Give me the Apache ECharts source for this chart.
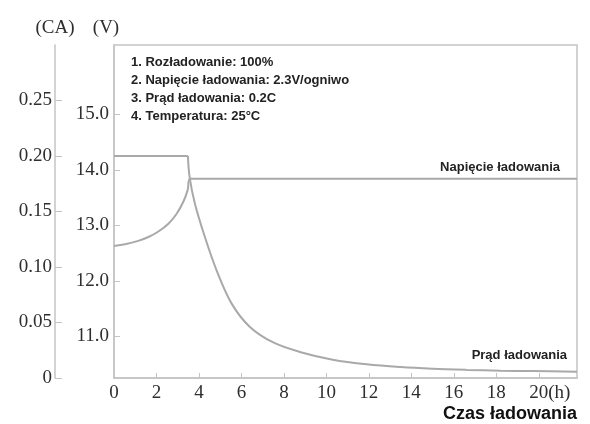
<!DOCTYPE html>
<html>
<head>
<meta charset="utf-8">
<script src="https://cdn.jsdelivr.net/npm/echarts@6/dist/echarts.min.js"></script>
<style>html,body{margin:0;padding:0;background:#fff;}#c{width:590px;height:424px;}</style>
</head>
<body>
<div id="c"></div>
<script>
// Data
var timeTicks = [0, 2, 4, 6, 8, 10, 12, 14, 16, 18, 20];
var currentTicks = [0, 0.05, 0.10, 0.15, 0.20, 0.25];
var voltageTicks = [11, 12, 13, 14, 15];

var voltageTime  = [0, 0.52, 1.14, 1.62, 2.09, 2.56, 2.95, 3.27, 3.47, 3.58, 21.8];
var voltageValue = [12.63, 12.66, 12.72, 12.79, 12.89, 13.03, 13.21, 13.43, 13.64, 13.84, 13.84];

var currentTime  = [0, 3.48, 3.56, 3.81, 4.28, 4.83, 5.54, 6.4, 7.5, 8.75, 10.3, 11.9, 13.5, 15.0, 16.6, 18.2, 19.7, 21.8];
var currentValue = [0.2, 0.2, 0.181, 0.157, 0.127, 0.097, 0.067, 0.046, 0.032, 0.0235, 0.0165, 0.0123, 0.0098, 0.0083, 0.0073, 0.0066, 0.0062, 0.0057];

var notes = ['1. Rozładowanie: 100%', '2. Napięcie ładowania: 2.3V/ogniwo', '3. Prąd ładowania: 0.2C', '4. Temperatura: 25°C'];

function pairs(xs, ys) { return xs.map(function (x, i) { return [x, ys[i]]; }); }

var serif = '"Liberation Serif", "Times New Roman", serif';
var sans = '"Liberation Sans", Arial, sans-serif';
var axisGray = '#c4c4c4';
var lineGray = '#a9a9a9';
var labelColor = '#2e2e2e';

var voltageData = pairs(voltageTime, voltageValue);
var currentData = pairs(currentTime, currentValue);

var chart = echarts.init(document.getElementById('c'));
chart.setOption({
  animation: false,
  backgroundColor: '#fff',
  grid: { left: 114, right: 13, top: 45, bottom: 46, show: true, borderColor: axisGray, borderWidth: 1.5, containLabel: false, outerBoundsMode: 'none' },
  title: [
    { text: notes.join('\n'), left: 131, top: 54, padding: 0,
      textStyle: { fontFamily: sans, fontSize: 13, fontWeight: 'bold', color: '#222', lineHeight: 17.7 } },
    { text: 'Napięcie ładowania', right: 30, top: 161, padding: 0,
      textStyle: { fontFamily: sans, fontSize: 13, fontWeight: 'bold', color: '#222' } },
    { text: 'Prąd ładowania', right: 23, top: 349, padding: 0,
      textStyle: { fontFamily: sans, fontSize: 13, fontWeight: 'bold', color: '#222' } },
    { text: 'Czas ładowania', right: 13, top: 405, padding: 0,
      textStyle: { fontFamily: sans, fontSize: 18, fontWeight: 'bold', color: '#111' } }
  ],
  xAxis: {
    type: 'value', min: 0, max: 21.8,
    axisLine: { show: true, onZero: false, lineStyle: { color: axisGray, width: 1.5 } },
    axisTick: { show: true, inside: true, length: 5, customValues: timeTicks, lineStyle: { color: axisGray } },
    splitLine: { show: false },
    axisLabel: {
      customValues: timeTicks, margin: 6, color: labelColor, fontFamily: serif, fontSize: 19,
      formatter: function (v) { return v === 20 ? '{p|(h)}20(h)' : String(v); },
      rich: { p: { color: 'transparent', fontFamily: serif, fontSize: 19 } }
    }
  },
  yAxis: [
    {
      type: 'value', position: 'left', offset: 59, min: 0, max: 0.3,
      name: '(CA)', nameLocation: 'end', nameGap: 7,
      nameTextStyle: { fontFamily: serif, fontSize: 19, color: labelColor, align: 'center' },
      axisLine: { show: true, onZero: false, lineStyle: { color: axisGray, width: 1.5 } },
      axisTick: { show: true, inside: true, length: 7, customValues: currentTicks, lineStyle: { color: axisGray } },
      splitLine: { show: false },
      axisLabel: { customValues: currentTicks, margin: 3, color: labelColor, fontFamily: serif, fontSize: 19,
        formatter: function (v) { return v === 0 ? '0' : v.toFixed(2); } }
    },
    {
      type: 'value', position: 'left', offset: 0, min: 10.25, max: 16.25,
      name: '(V)', nameLocation: 'end', nameGap: 7,
      nameTextStyle: { fontFamily: serif, fontSize: 19, color: labelColor, align: 'center', padding: [0, 16, 0, 0] },
      axisLine: { show: true, onZero: false, lineStyle: { color: axisGray, width: 1.5 } },
      axisTick: { show: true, inside: true, length: 6, customValues: voltageTicks, lineStyle: { color: axisGray } },
      splitLine: { show: false },
      axisLabel: { customValues: voltageTicks, margin: 5, color: labelColor, fontFamily: serif, fontSize: 19,
        formatter: function (v) { return v.toFixed(1); } }
    }
  ],
  series: [
    { name: 'Napięcie ładowania', type: 'line', yAxisIndex: 1, data: voltageData,
      showSymbol: false, smooth: 0.35, lineStyle: { color: lineGray, width: 2 } },
    { name: 'Prąd ładowania (stały)', type: 'line', yAxisIndex: 0, data: currentData.slice(0, 2),
      showSymbol: false, lineStyle: { color: lineGray, width: 2 } },
    { name: 'Prąd ładowania', type: 'line', yAxisIndex: 0, data: currentData.slice(1),
      showSymbol: false, smooth: 0.35, lineStyle: { color: lineGray, width: 2 } }
  ]
});
</script>
</body>
</html>
